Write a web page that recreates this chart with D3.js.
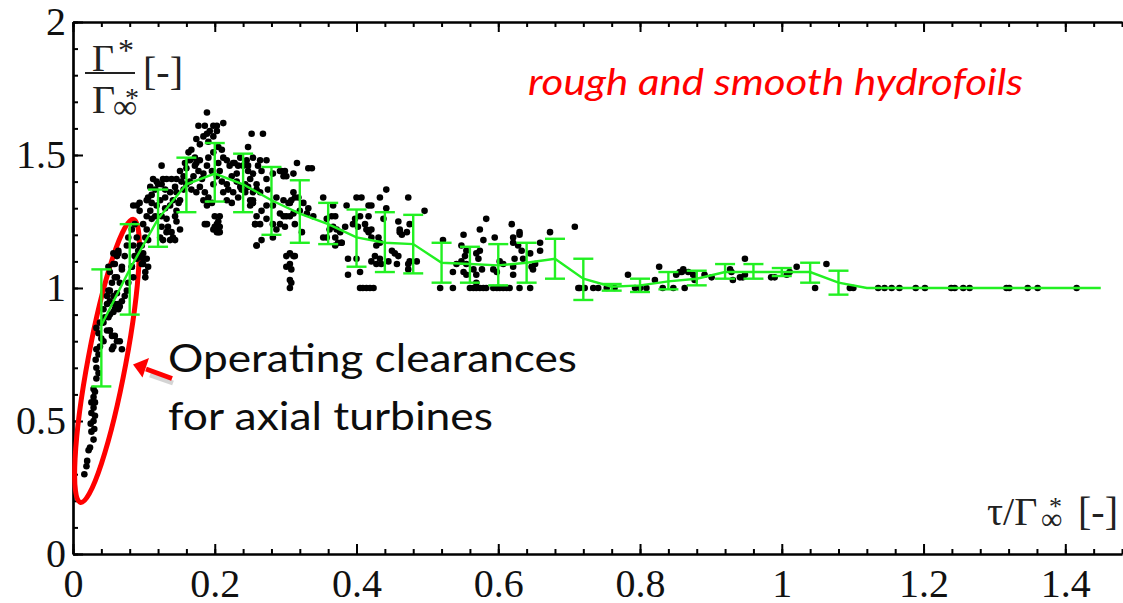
<!DOCTYPE html>
<html>
<head>
<meta charset="utf-8">
<script src="https://cdn.jsdelivr.net/npm/d3@7"></script>
<style>
html, body { margin: 0; padding: 0; background: #fff; }
svg { display: block; }
</style>
</head>
<body>
<svg id="chart" width="1123" height="603"></svg>
<script>
// tick labels
var xTicks = [0, 0.2, 0.4, 0.6, 0.8, 1, 1.2, 1.4];
var xTickLabels = ['0', '0.2', '0.4', '0.6', '0.8', '1', '1.2', '1.4'];
var yTicks = [0, 0.5, 1, 1.5, 2];
var yTickLabels = ['0', '0.5', '1', '1.5', '2'];

// binned mean with error bars (green)
var binTau   = [0.04, 0.08, 0.12, 0.16, 0.20, 0.24, 0.28, 0.32, 0.36, 0.40, 0.44, 0.48, 0.52, 0.56, 0.60, 0.64, 0.68, 0.72, 0.76, 0.80, 0.84, 0.88, 0.92, 0.96, 1.00, 1.04, 1.08];
var binMean  = [0.86, 1.07, 1.26, 1.39, 1.43, 1.39, 1.33, 1.28, 1.24, 1.19, 1.17, 1.165, 1.095, 1.09, 1.085, 1.095, 1.11, 1.035, 1.005, 1.01, 1.025, 1.035, 1.06, 1.06, 1.06, 1.06, 1.02];
var binUpper = [1.07, 1.24, 1.37, 1.49, 1.545, 1.505, 1.455, 1.405, 1.32, 1.295, 1.285, 1.275, 1.17, 1.155, 1.165, 1.17, 1.185, 1.11, 1.015, 1.035, 1.06, 1.065, 1.09, 1.09, 1.075, 1.095, 1.065];
var binLower = [0.63, 0.90, 1.155, 1.285, 1.325, 1.285, 1.20, 1.17, 1.165, 1.08, 1.06, 1.055, 1.02, 1.02, 1.01, 1.02, 1.035, 0.955, 0.99, 0.985, 0.995, 1.01, 1.035, 1.035, 1.045, 1.02, 0.975];
var tailTau  = [1.12, 1.45];
var tailMean = [1.0, 1.0];

// scattered measurements [tau/Gamma_inf, Gamma/Gamma_inf]
var scatterLow = [[0.016,0.30],[0.019,0.33],[0.020,0.35],[0.022,0.39],[0.024,0.40],[0.029,0.43],[0.026,0.46],[0.030,0.47],[0.025,0.49],[0.029,0.50],[0.031,0.52],[0.026,0.53],[0.029,0.55],[0.031,0.57],[0.026,0.57],[0.029,0.59],[0.031,0.61],[0.029,0.62],[0.033,0.66],[0.036,0.68],[0.033,0.70],[0.032,0.73],[0.036,0.75],[0.033,0.77],[0.038,0.78],[0.043,0.80],[0.040,0.81]];

var scatterRise = [[0.036,0.83],[0.048,0.84],[0.052,0.84],[0.055,0.82],[0.059,0.82],[0.062,0.80],[0.066,0.80],[0.069,0.77],[0.057,0.78],[0.055,0.77],[0.033,0.85],[0.038,0.87],[0.045,0.89],[0.052,0.90],[0.057,0.91],[0.064,0.92],[0.066,0.93],[0.059,0.94],[0.052,0.95],[0.048,0.97],[0.043,0.92],[0.050,0.99],[0.055,1.02],[0.059,1.04],[0.052,1.06],[0.050,1.08],[0.057,1.09],[0.062,1.12],[0.064,1.14],[0.057,1.13],[0.069,1.07],[0.066,1.02],[0.062,0.98],[0.069,0.95],[0.083,1.08],[0.085,1.04],[0.090,1.11],[0.094,1.13],[0.097,1.09],[0.102,1.04],[0.099,1.11],[0.092,1.14],[0.078,1.02],[0.076,0.99],[0.073,0.97],[0.090,1.31],[0.094,1.29],[0.087,1.24],[0.083,1.22],[0.090,1.19],[0.097,1.16],[0.094,1.12],[0.099,1.09],[0.078,1.19],[0.076,1.16],[0.085,1.16],[0.087,1.12],[0.083,1.08],[0.073,1.12],[0.069,1.08],[0.064,1.13],[0.059,1.09],[0.062,1.04],[0.052,0.99],[0.057,0.97],[0.048,0.94],[0.050,0.89],[0.059,0.92],[0.064,0.94],[0.043,0.87],[0.052,0.84]];

var scatterPeak = [[0.085,1.31],[0.094,1.32],[0.104,1.33],[0.111,1.35],[0.116,1.37],[0.118,1.40],[0.113,1.41],[0.125,1.46],[0.127,1.41],[0.132,1.41],[0.125,1.39],[0.109,1.38],[0.106,1.34],[0.111,1.32],[0.118,1.31],[0.109,1.29],[0.104,1.27],[0.111,1.26],[0.116,1.27],[0.099,1.24],[0.104,1.22],[0.102,1.19],[0.106,1.18],[0.094,1.16],[0.099,1.13],[0.104,1.11],[0.106,1.08],[0.102,1.06],
  [0.123,1.33],[0.130,1.34],[0.137,1.36],[0.141,1.33],[0.137,1.31],[0.130,1.30],[0.125,1.27],[0.132,1.26],[0.134,1.23],[0.139,1.21],[0.141,1.19],[0.144,1.18],[0.132,1.21],[0.125,1.23],[0.123,1.19],[0.127,1.18],[0.144,1.27],[0.146,1.29],[0.149,1.32],[0.151,1.33],[0.144,1.38],[0.139,1.41],[0.146,1.41],[0.153,1.40],[0.156,1.42],[0.151,1.44],[0.160,1.45],[0.158,1.47],[0.165,1.48],[0.163,1.51],[0.167,1.52],[0.172,1.49],[0.174,1.47],[0.177,1.44],[0.170,1.42],[0.165,1.40],[0.167,1.37],[0.174,1.36],[0.179,1.38],[0.182,1.41],[0.186,1.36],[0.184,1.33],[0.191,1.34],[0.196,1.32],[0.189,1.31],[0.186,1.24],[0.200,1.27],[0.203,1.24],[0.205,1.21],[0.198,1.22],[0.172,1.46],[0.179,1.54],[0.174,1.56],[0.184,1.57],[0.189,1.58],[0.193,1.59],[0.186,1.61],[0.177,1.61],[0.198,1.61],[0.203,1.61],[0.212,1.62],[0.189,1.66],[0.203,1.59],[0.198,1.57],[0.191,1.55],[0.205,1.53],[0.210,1.52],[0.212,1.49],[0.217,1.48],[0.221,1.46],[0.226,1.47],[0.233,1.46],[0.231,1.43],[0.224,1.42],[0.217,1.39],[0.219,1.37],[0.212,1.36],[0.217,1.33],[0.224,1.32],[0.226,1.36],[0.233,1.34],[0.238,1.37],[0.243,1.39],[0.250,1.41],[0.254,1.43],[0.245,1.48],[0.247,1.46],[0.259,1.37],[0.254,1.33],[0.250,1.31],[0.207,1.27],[0.207,1.23],[0.203,1.21],[0.207,1.21],[0.257,1.24],[0.259,1.16],[0.198,1.39],[0.196,1.44],[0.203,1.42],[0.207,1.44],[0.210,1.40],[0.189,1.46],[0.184,1.43],[0.179,1.48],[0.191,1.49],[0.205,1.47],[0.198,1.51],
  [0.120,1.39],[0.130,1.37],[0.146,1.36],[0.156,1.37],[0.160,1.39],[0.146,1.25],[0.151,1.22],[0.137,1.18],[0.228,1.47],[0.236,1.49],[0.240,1.46],[0.247,1.44],[0.231,1.40],[0.236,1.38],[0.243,1.36],[0.250,1.33],[0.254,1.32],[0.189,1.24],[0.200,1.23],[0.203,1.22],[0.205,1.25]];

var scatterShoulder = [[0.252,1.58],[0.268,1.58],[0.247,1.53],[0.254,1.49],[0.264,1.48],[0.273,1.48],[0.261,1.46],[0.266,1.44],[0.282,1.43],[0.292,1.44],[0.301,1.42],[0.316,1.47],[0.311,1.43],[0.273,1.41],[0.259,1.39],[0.247,1.38],[0.254,1.36],[0.264,1.36],[0.275,1.37],[0.287,1.34],[0.297,1.33],[0.306,1.32],[0.311,1.36],[0.318,1.34],[0.325,1.32],[0.332,1.30],[0.330,1.28],[0.320,1.29],[0.311,1.28],[0.301,1.27],[0.292,1.28],[0.282,1.31],[0.273,1.31],[0.266,1.29],[0.259,1.27],[0.257,1.24],[0.264,1.24],[0.273,1.26],[0.282,1.24],[0.287,1.22],[0.292,1.24],[0.299,1.23],[0.259,1.16],[0.266,1.18],[0.282,1.19],[0.306,1.13],[0.301,1.12],[0.311,1.12],[0.306,1.09],[0.301,1.08],[0.308,1.07],[0.306,1.03],[0.306,1.00],[0.332,1.45],
  [0.294,1.44],[0.299,1.44],[0.297,1.42],[0.337,1.45],[0.313,1.34],[0.308,1.33],[0.304,1.32],[0.297,1.27],[0.306,1.27],[0.313,1.24],[0.323,1.21],[0.339,1.27],[0.313,1.12],[0.308,1.02]];

var scatterMid = [[0.353,1.34],[0.367,1.31],[0.370,1.27],[0.365,1.27],[0.358,1.26],[0.367,1.23],[0.362,1.22],[0.372,1.22],[0.377,1.21],[0.384,1.23],[0.386,1.31],[0.400,1.34],[0.407,1.34],[0.417,1.31],[0.421,1.31],[0.433,1.34],[0.442,1.37],[0.398,1.26],[0.405,1.27],[0.395,1.24],[0.402,1.23],[0.412,1.24],[0.417,1.27],[0.414,1.22],[0.421,1.22],[0.417,1.21],[0.431,1.19],[0.421,1.19],[0.438,1.26],[0.442,1.30],[0.459,1.25],[0.461,1.21],[0.473,1.34],[0.475,1.24],[0.496,1.29],[0.379,1.17],[0.370,1.19],[0.388,1.11],[0.400,1.11],[0.405,1.06],[0.388,1.05],[0.405,1.00],[0.409,1.00],[0.414,1.00],[0.419,1.00],[0.424,1.00],[0.421,1.10],[0.428,1.09],[0.433,1.11],[0.426,1.12],[0.435,1.09],[0.445,1.10],[0.450,1.14],[0.454,1.13],[0.459,1.12],[0.457,1.09],[0.473,1.09],[0.473,1.07],[0.475,1.10],[0.485,1.10],[0.461,1.22],[0.464,1.20],[0.471,1.21],[0.433,1.17],[0.428,1.16],[0.353,1.19],[0.358,1.19],[0.374,1.17],[0.370,1.16],[0.379,1.17],
  [0.522,1.18],[0.551,1.20],[0.583,1.26],[0.574,1.22],[0.579,1.18],[0.595,1.19],[0.619,1.24],[0.630,1.21],[0.630,1.20],[0.621,1.19],[0.628,1.16],[0.621,1.17],[0.633,1.14],[0.645,1.13],[0.659,1.14],[0.659,1.17],[0.673,1.21],[0.708,1.23],[0.548,1.16],[0.555,1.14],[0.553,1.12],[0.548,1.10],[0.555,1.09],[0.541,1.09],[0.536,1.06],[0.551,1.06],[0.555,1.05],[0.569,1.13],[0.574,1.14],[0.572,1.11],[0.565,1.07],[0.569,1.05],[0.577,1.07],[0.593,1.07],[0.598,1.06],[0.607,1.09],[0.602,1.10],[0.621,1.08],[0.623,1.11],[0.635,1.11],[0.647,1.08],[0.652,1.09],[0.649,1.07],[0.621,1.05],
  [0.518,1.00],[0.536,1.00],[0.560,1.00],[0.565,1.00],[0.569,1.00],[0.574,1.00],[0.579,1.00],[0.583,1.00],[0.593,1.00],[0.598,1.00],[0.602,1.00],[0.607,1.00],[0.612,1.00],[0.616,1.00],[0.630,1.00],[0.645,1.00],[0.713,1.00],[0.569,1.02]];

var scatterTail = [[0.715,1.00],[0.722,1.00],[0.734,1.00],[0.741,1.00],[0.753,1.00],[0.764,1.00],[0.783,1.05],[0.793,1.00],[0.800,1.00],[0.809,1.00],[0.821,1.03],[0.827,1.08],[0.832,1.00],[0.847,1.00],[0.851,1.05],[0.856,1.06],[0.861,1.07],[0.859,1.06],[0.868,1.06],[0.863,1.00],[0.875,1.05],[0.877,1.03],[0.891,1.05],[0.901,1.04],[0.927,1.07],[0.929,1.06],[0.931,1.03],[0.941,1.04],[0.945,1.04],[0.948,1.11],[0.948,1.05],[0.985,1.04],[0.990,1.04],[1.007,1.05],[1.011,1.06],[1.021,1.08],[1.047,1.00],[1.063,1.09],[1.096,1.00],[1.101,1.00],[1.136,1.00],[1.145,1.00],[1.155,1.00],[1.166,1.00],[1.189,1.00],[1.202,1.00],[1.239,1.00],[1.244,1.00],[1.256,1.00],[1.265,1.00],[1.317,1.00],[1.321,1.00],[1.347,1.00],[1.361,1.00],[1.416,1.00]];

var serif = '"Liberation Serif", "Times New Roman", serif';
var sans = 'Lato, "Open Sans", sans-serif';
var green = '#22f022';

var svg = d3.select('#chart');
var x = d3.scaleLinear().domain([0, 1.48]).range([73, 1122]);
var y = d3.scaleLinear().domain([0, 2]).range([554, 22]);

function styleAxis(g){
  g.attr('font-family', serif).attr('font-size', 40);
  g.select('.domain').attr('stroke', '#000').attr('stroke-width', 2.2);
  g.selectAll('.tick line').attr('stroke', '#000').attr('stroke-width', 2);
  g.selectAll('.tick text').attr('fill', '#111');
}

// bottom axis: minor + major, ticks inward
svg.append('g').attr('transform', 'translate(0,554)')
  .call(d3.axisBottom(x).tickValues(d3.range(0, 1.4801, 0.04)).tickSize(-5).tickSizeOuter(0).tickFormat(''))
  .call(styleAxis);
svg.append('g').attr('transform', 'translate(0,554)')
  .call(d3.axisBottom(x).tickValues(xTicks).tickSize(-10).tickSizeOuter(0).tickPadding(15)
    .tickFormat(function(d, i){ return xTickLabels[i]; }))
  .call(styleAxis);

// top axis
svg.append('g').attr('transform', 'translate(0,22)')
  .call(d3.axisTop(x).tickValues(d3.range(0, 1.4801, 0.04)).tickSize(-5).tickSizeOuter(0).tickFormat(''))
  .call(styleAxis);
svg.append('g').attr('transform', 'translate(0,22)')
  .call(d3.axisTop(x).tickValues(xTicks).tickSize(-10).tickSizeOuter(0).tickFormat(''))
  .call(styleAxis);

// left axis
svg.append('g').attr('transform', 'translate(73,0)')
  .call(d3.axisLeft(y).tickValues(d3.range(0, 2.001, 0.1)).tickSize(-5).tickSizeOuter(0).tickFormat(''))
  .call(styleAxis);
svg.append('g').attr('transform', 'translate(73,0)')
  .call(d3.axisLeft(y).tickValues(yTicks).tickSize(-10).tickSizeOuter(0).tickPadding(7)
    .tickFormat(function(d, i){ return yTickLabels[i]; }))
  .call(styleAxis);

// red ellipse around the small-clearance points
svg.append('ellipse')
  .attr('cx', 0).attr('cy', 0).attr('rx', 19).attr('ry', 144)
  .attr('transform', 'translate(' + x(0.048) + ',' + y(0.726) + ') rotate(10.6)')
  .attr('fill', 'none').attr('stroke', '#ff0000').attr('stroke-width', 5);

// scatter
var allDots = [].concat(scatterLow, scatterRise, scatterPeak, scatterShoulder, scatterMid, scatterTail);
svg.append('g').selectAll('circle')
  .data(allDots)
  .enter()
  .append('circle')
  .attr('cx', function(d){ return x(d[0]); })
  .attr('cy', function(d){ return y(d[1]); })
  .attr('r', 3.3)
  .attr('fill', '#000');

// mean line
var meanPts = binTau.map(function(t, i){ return [t, binMean[i]]; })
  .concat(tailTau.map(function(t, i){ return [t, tailMean[i]]; }));
svg.append('path')
  .datum(meanPts)
  .attr('d', d3.line().x(function(d){ return x(d[0]); }).y(function(d){ return y(d[1]); }))
  .attr('fill', 'none').attr('stroke', green).attr('stroke-width', 2.4);

// error bars
var bars = svg.append('g').attr('stroke', green).attr('stroke-width', 2.4);
binTau.forEach(function(t, i){
  var cx = x(t);
  bars.append('line').attr('x1', cx).attr('x2', cx).attr('y1', y(binLower[i])).attr('y2', y(binUpper[i]));
  bars.append('line').attr('x1', cx - 10).attr('x2', cx + 10).attr('y1', y(binLower[i])).attr('y2', y(binLower[i]));
  bars.append('line').attr('x1', cx - 10).attr('x2', cx + 10).attr('y1', y(binUpper[i])).attr('y2', y(binUpper[i]));
});

// arrow pointing to the ellipse (with soft shadow)
svg.append('line').attr('x1', 173).attr('y1', 383).attr('x2', 150).attr('y2', 375)
  .attr('stroke', '#aaa').attr('stroke-width', 5).attr('opacity', 0.5);
svg.append('line').attr('x1', 172).attr('y1', 378.5).attr('x2', 146).attr('y2', 369)
  .attr('stroke', '#ff0000').attr('stroke-width', 5);
svg.append('path').attr('d', 'M133,364.5 L149,358 L142.5,377.5 Z').attr('fill', '#ff0000');

// annotations
svg.append('text').attr('x', 168).attr('y', 372)
  .attr('font-family', sans).attr('font-size', 38).attr('fill', '#0d0d0d')
  .attr('textLength', 409).attr('lengthAdjust', 'spacingAndGlyphs')
  .text('Operating clearances');
svg.append('text').attr('x', 168).attr('y', 430)
  .attr('font-family', sans).attr('font-size', 38).attr('fill', '#0d0d0d')
  .attr('textLength', 325).attr('lengthAdjust', 'spacingAndGlyphs')
  .text('for axial turbines');
svg.append('text').attr('x', 528).attr('y', 95)
  .attr('font-family', sans).attr('font-style', 'italic').attr('font-size', 36).attr('fill', '#ff0000')
  .attr('textLength', 495).attr('lengthAdjust', 'spacingAndGlyphs')
  .text('rough and smooth hydrofoils');

// y axis title: Gamma*/Gamma_inf* [-]
var yt = svg.append('g').attr('font-family', serif).attr('fill', '#222');
yt.append('text').attr('x', 92).attr('y', 71).attr('font-size', 38).text('Γ');
yt.append('text').attr('x', 118).attr('y', 61).attr('font-size', 32).text('*');
yt.append('line').attr('x1', 85).attr('x2', 135).attr('y1', 73).attr('y2', 73).attr('stroke', '#222').attr('stroke-width', 2);
yt.append('text').attr('x', 92).attr('y', 113).attr('font-size', 40).text('Γ');
yt.append('text').attr('x', 113).attr('y', 118).attr('font-size', 34).text('∞');
yt.append('text').attr('x', 125).attr('y', 107).attr('font-size', 28).text('*');
yt.append('text').attr('x', 143).attr('y', 85).attr('font-size', 40).text('[-]');

// x axis title: tau/Gamma_inf* [-]
var xt = svg.append('g').attr('font-family', serif).attr('fill', '#222');
xt.append('text').attr('x', 987).attr('y', 525).attr('font-size', 40).text('τ/Γ');
xt.append('text').attr('x', 1041).attr('y', 529).attr('font-size', 30).text('∞');
xt.append('text').attr('x', 1049).attr('y', 515).attr('font-size', 26).text('*');
xt.append('text').attr('x', 1078).attr('y', 525).attr('font-size', 40).text('[-]');
</script>
</body>
</html>
